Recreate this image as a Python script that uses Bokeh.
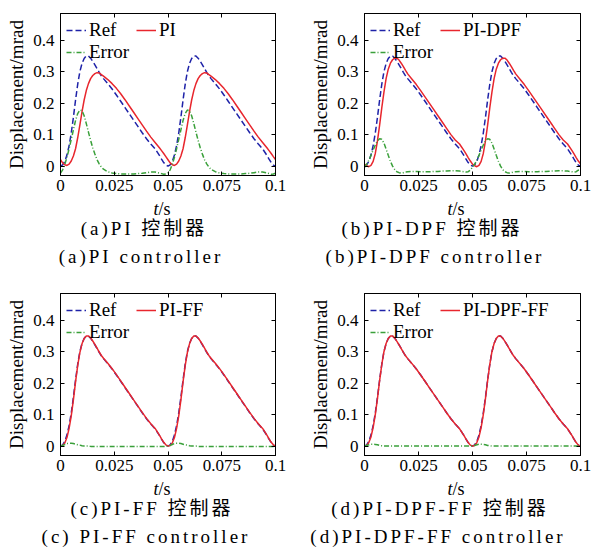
from bokeh.plotting import figure
from bokeh.models import Legend, LegendItem, LinearAxis, FixedTicker, Range1d, CustomLabelingPolicy, Div
from bokeh.layouts import column, row
from bokeh.embed import file_html
from bokeh.resources import INLINE

# ---------------- data (time in ms) ----------------
t_ms = [0, 1, 2, 3, 4, 5, 6, 7, 8, 9, 10, 11, 12, 13, 14, 15, 16, 17, 18, 19, 20,
        22, 24, 26, 28, 30, 32, 34, 36, 38, 40, 42, 44, 46, 47, 48, 49,
        50, 51, 52, 53, 54, 55, 56, 57, 58, 59, 60, 61, 62, 63, 64, 65, 66, 67, 68, 69, 70,
        72, 74, 76, 78, 80, 82, 84, 86, 88, 90, 92, 94, 96, 97, 98, 99,
        100]

ref = [0.000, 0.004, 0.015, 0.035, 0.065, 0.105, 0.155, 0.210, 0.260, 0.300, 0.326, 0.342, 0.350, 0.350, 0.343, 0.333, 0.322, 0.310, 0.298, 0.287, 0.278,
       0.262, 0.245, 0.226, 0.206, 0.186, 0.166, 0.146, 0.126, 0.106, 0.087, 0.070, 0.055, 0.034, 0.022, 0.011, 0.003,
       0.000, 0.004, 0.015, 0.035, 0.065, 0.105, 0.155, 0.210, 0.260, 0.300, 0.326, 0.342, 0.350, 0.350, 0.343, 0.333, 0.322, 0.310, 0.298, 0.287, 0.278,
       0.262, 0.245, 0.226, 0.206, 0.186, 0.166, 0.146, 0.126, 0.106, 0.087, 0.070, 0.055, 0.034, 0.022, 0.011, 0.003,
       0.000]

pi_out = [0.020, 0.010, 0.004, 0.002, 0.006, 0.016, 0.032, 0.055, 0.090, 0.130, 0.172, 0.210, 0.240, 0.262, 0.278, 0.288, 0.294, 0.297, 0.296, 0.291, 0.286,
          0.275, 0.262, 0.247, 0.230, 0.211, 0.191, 0.171, 0.151, 0.131, 0.111, 0.092, 0.075, 0.058, 0.049, 0.040, 0.030,
          0.020, 0.010, 0.004, 0.002, 0.006, 0.016, 0.032, 0.055, 0.090, 0.130, 0.172, 0.210, 0.240, 0.262, 0.278, 0.288, 0.294, 0.297, 0.296, 0.291, 0.286,
          0.275, 0.262, 0.247, 0.230, 0.211, 0.191, 0.171, 0.151, 0.131, 0.111, 0.092, 0.075, 0.058, 0.049, 0.040, 0.030,
          0.021]

pi_err = [-0.022, -0.012, 0.005, 0.028, 0.055, 0.085, 0.115, 0.145, 0.167, 0.178, 0.176, 0.160, 0.135, 0.108, 0.082, 0.058, 0.038, 0.020, 0.007, -0.003, -0.010,
          -0.018, -0.022, -0.024, -0.025, -0.025, -0.025, -0.025, -0.024, -0.023, -0.021, -0.019, -0.019, -0.022, -0.024, -0.026, -0.025,
          -0.022, -0.012, 0.005, 0.028, 0.055, 0.085, 0.115, 0.145, 0.167, 0.178, 0.176, 0.160, 0.135, 0.108, 0.082, 0.058, 0.038, 0.020, 0.007, -0.003, -0.010,
          -0.018, -0.022, -0.024, -0.025, -0.025, -0.025, -0.025, -0.024, -0.023, -0.021, -0.019, -0.019, -0.022, -0.024, -0.026, -0.025,
          -0.023]

dpf_out = [0.006, 0.001, -0.002, 0.002, 0.015, 0.040, 0.080, 0.130, 0.185, 0.235, 0.278, 0.308, 0.327, 0.338, 0.343, 0.343, 0.337, 0.327, 0.316, 0.304, 0.293,
           0.276, 0.259, 0.240, 0.220, 0.200, 0.180, 0.160, 0.140, 0.120, 0.100, 0.083, 0.070, 0.050, 0.039, 0.027, 0.016,
           0.006, 0.001, -0.002, 0.002, 0.015, 0.040, 0.080, 0.130, 0.185, 0.235, 0.278, 0.308, 0.327, 0.338, 0.343, 0.343, 0.337, 0.327, 0.316, 0.304, 0.293,
           0.276, 0.259, 0.240, 0.220, 0.200, 0.180, 0.160, 0.140, 0.120, 0.100, 0.083, 0.070, 0.050, 0.039, 0.027, 0.016,
           0.007]

dpf_err = [-0.004, 0.006, 0.018, 0.034, 0.051, 0.067, 0.080, 0.087, 0.085, 0.073, 0.054, 0.034, 0.015, 0.000, -0.011, -0.018, -0.021, -0.022, -0.021, -0.019, -0.018,
           -0.017, -0.017, -0.018, -0.018, -0.018, -0.017, -0.017, -0.016, -0.016, -0.015, -0.015, -0.016, -0.018, -0.019, -0.018, -0.013,
           -0.004, 0.006, 0.018, 0.034, 0.051, 0.067, 0.080, 0.087, 0.085, 0.073, 0.054, 0.034, 0.015, 0.000, -0.011, -0.018, -0.021, -0.022, -0.021, -0.019, -0.018,
           -0.017, -0.017, -0.018, -0.018, -0.018, -0.017, -0.017, -0.016, -0.016, -0.015, -0.015, -0.016, -0.018, -0.019, -0.018, -0.013,
           -0.012]

ff_out = [0.000, 0.002, 0.010, 0.027, 0.056, 0.096, 0.147, 0.204, 0.256, 0.297, 0.325, 0.342, 0.350, 0.350, 0.344, 0.334, 0.323, 0.311, 0.299, 0.288, 0.279,
          0.263, 0.246, 0.227, 0.207, 0.187, 0.167, 0.147, 0.127, 0.107, 0.088, 0.071, 0.056, 0.035, 0.023, 0.012, 0.004,
          0.000, 0.002, 0.010, 0.027, 0.056, 0.096, 0.147, 0.204, 0.256, 0.297, 0.325, 0.342, 0.350, 0.350, 0.344, 0.334, 0.323, 0.311, 0.299, 0.288, 0.279,
          0.263, 0.246, 0.227, 0.207, 0.187, 0.167, 0.147, 0.127, 0.107, 0.088, 0.071, 0.056, 0.035, 0.023, 0.012, 0.004,
          0.000]

ff_err = [0.000, 0.002, 0.005, 0.008, 0.009, 0.009, 0.008, 0.006, 0.004, 0.003, 0.001, 0.000, 0.000, 0.000, -0.001, -0.001, -0.001, -0.001, -0.001, -0.001, -0.001,
          -0.001, -0.001, -0.001, -0.001, -0.001, -0.001, -0.001, -0.001, -0.001, -0.001, -0.001, -0.001, -0.001, -0.001, -0.001, -0.001,
          0.000, 0.002, 0.005, 0.008, 0.009, 0.009, 0.008, 0.006, 0.004, 0.003, 0.001, 0.000, 0.000, 0.000, -0.001, -0.001, -0.001, -0.001, -0.001, -0.001, -0.001,
          -0.001, -0.001, -0.001, -0.001, -0.001, -0.001, -0.001, -0.001, -0.001, -0.001, -0.001, -0.001, -0.001, -0.001, -0.001, -0.001,
          -0.002]

dpfff_out = [0.000, 0.002, 0.011, 0.029, 0.059, 0.100, 0.151, 0.208, 0.259, 0.300, 0.326, 0.342, 0.350, 0.350, 0.343, 0.333, 0.322, 0.310, 0.298, 0.287, 0.278,
             0.262, 0.245, 0.226, 0.206, 0.186, 0.166, 0.146, 0.126, 0.106, 0.087, 0.070, 0.055, 0.034, 0.022, 0.011, 0.003,
             0.000, 0.002, 0.011, 0.029, 0.059, 0.100, 0.151, 0.208, 0.259, 0.300, 0.326, 0.342, 0.350, 0.350, 0.343, 0.333, 0.322, 0.310, 0.298, 0.287, 0.278,
             0.262, 0.245, 0.226, 0.206, 0.186, 0.166, 0.146, 0.126, 0.106, 0.087, 0.070, 0.055, 0.034, 0.022, 0.011, 0.003,
             0.000]

dpfff_err = [0.000, 0.002, 0.004, 0.006, 0.006, 0.005, 0.004, 0.002, 0.001, 0.000, 0.000, 0.000, 0.000, 0.000, 0.000, 0.000, 0.000, 0.000, 0.000, 0.000, 0.000,
             0.000, 0.000, 0.000, 0.000, 0.000, 0.000, 0.000, 0.000, 0.000, 0.000, 0.000, 0.000, 0.000, 0.000, 0.000, 0.000,
             0.000, 0.002, 0.004, 0.006, 0.006, 0.005, 0.004, 0.002, 0.001, 0.000, 0.000, 0.000, 0.000, 0.000, 0.000, 0.000, 0.000, 0.000, 0.000, 0.000, 0.000,
             0.000, 0.000, 0.000, 0.000, 0.000, 0.000, 0.000, 0.000, 0.000, 0.000, 0.000, 0.000, 0.000, 0.000, 0.000, 0.000,
             0.000]

x_ticks = [0, 0.025, 0.05, 0.075, 0.1]
x_tick_labels = ["0", "0.025", "0.05", "0.075", "0.1"]
y_ticks = [0, 0.1, 0.2, 0.3, 0.4]
y_tick_labels = ["0", "0.1", "0.2", "0.3", "0.4"]

t = [v / 1000 for v in t_ms]

BLUE = "#1e22a8"
RED = "#e8262d"
GREEN = "#3aa03a"
SERIF = "Liberation Serif"
CSSFONT = "Liberation Serif, Noto Sans CJK SC, serif"
FH = 162


def text_div(html, W, H, lh, center, fs, ls=0):
    dx = center - W / 2
    inner = (f'<div style="width:{W}px;height:{H}px;line-height:{lh}px;text-align:center;'
             f'position:relative;left:{dx:.1f}px;font-family:{CSSFONT};font-size:{fs}px;'
             f'letter-spacing:{ls}px;color:black;white-space:nowrap;margin:0;padding:0">{html}</div>')
    return Div(text=inner, width=W, height=H, margin=0,
               styles={"font-family": CSSFONT, "color": "black"})


def make_panel(out_name, out, err, bl, br, fw, cap1, cap2, xl_c, c1, c2):
    p = figure(frame_width=fw, frame_height=FH, min_border_left=bl, min_border_right=br,
               min_border_top=13, min_border_bottom=25,
               x_range=Range1d(0, 0.1), y_range=Range1d(-0.03, 0.485),
               output_backend="svg", toolbar_location=None, margin=0)
    p.grid.visible = False
    p.outline_line_color = "black"
    p.outline_line_alpha = 1.0
    p.background_fill_color = "white"
    p.border_fill_color = "white"

    r_ref = p.line(t, ref, line_color=BLUE, line_dash="6 3", line_width=1.5)
    r_out = p.line(t, out, line_color=RED, line_width=1.5)
    r_err = p.line(t, err, line_color=GREEN, line_dash="5 2 1 2", line_width=1.5)

    xa = p.xaxis[0]
    ya = p.yaxis[0]
    xa.ticker = FixedTicker(ticks=x_ticks)
    xa.major_label_overrides = dict(zip(x_ticks, x_tick_labels))
    ya.ticker = FixedTicker(ticks=y_ticks)
    ya.major_label_overrides = dict(zip(y_ticks, y_tick_labels))
    for ax in (xa, ya):
        ax.major_tick_in = 4
        ax.major_tick_out = 0
        ax.minor_tick_line_color = None
        ax.axis_line_color = "black"
        ax.major_tick_line_color = "black"
        ax.major_label_text_font = SERIF
        ax.major_label_text_font_size = "17px"
        ax.major_label_text_color = "black"
    xa.major_label_standoff = 4
    ya.major_label_standoff = 6
    ya.axis_label = "Displacement/mrad"
    ya.axis_label_text_font = SERIF
    ya.axis_label_text_font_size = "19px"
    ya.axis_label_text_font_style = "normal"
    ya.axis_label_text_color = "black"
    ya.axis_label_standoff = 3

    hide = CustomLabelingPolicy(code="return new Set()")
    top = LinearAxis(ticker=FixedTicker(ticks=x_ticks), major_label_policy=hide,
                     major_tick_in=4, major_tick_out=0, minor_tick_line_color=None,
                     major_label_standoff=0, axis_line_color="black")
    right = LinearAxis(ticker=FixedTicker(ticks=y_ticks), major_label_policy=hide,
                       major_tick_in=4, major_tick_out=0, minor_tick_line_color=None,
                       major_label_standoff=0, axis_line_color="black")
    p.add_layout(top, "above")
    p.add_layout(right, "right")

    legend = Legend(items=[LegendItem(label="Ref", renderers=[r_ref]),
                           LegendItem(label=out_name, renderers=[r_out]),
                           LegendItem(label="Error", renderers=[r_err])],
                    location="top_left", orientation="horizontal", ncols=2,
                    label_text_font=SERIF, label_text_font_size="19px", label_text_color="black",
                    glyph_width=20, glyph_height=16, label_height=16, label_width=47,
                    label_standoff=3, spacing=0, padding=6, margin=0,
                    border_line_alpha=0, background_fill_alpha=0)
    p.add_layout(legend)

    W = bl + fw + br
    d0 = text_div('<span style="font-style:italic">t</span>/s', W, 18, 18, xl_c, 18)
    d1 = text_div(cap1, W, 22, 22, c1, 19, 3)
    d2 = text_div(cap2, W, 40, 34, c2, 19, 3)
    return column(p, d0, d1, d2, spacing=0, margin=0)


pa = make_panel("PI", pi_out, pi_err, 60, 25, 215, "(a)PI 控制器", "(a)PI controller", 162, 144, 141)
pb = make_panel("PI-DPF", dpf_out, dpf_err, 64, 11, 216, "(b)PI-DPF 控制器", "(b)PI-DPF controller", 156, 132, 135)
pc = make_panel("PI-FF", ff_out, ff_err, 60, 25, 215, "(c)PI-FF 控制器", "(c) PI-FF controller", 162, 152, 146)
pd = make_panel("PI-DPF-FF", dpfff_out, dpfff_err, 64, 11, 216, "(d)PI-DPF-FF 控制器", "(d)PI-DPF-FF controller", 156, 140, 138)

layout = column(row(pa, pb, spacing=0), row(pc, pd, spacing=0), spacing=0)
open("out.html", "w").write(file_html(layout, INLINE))
